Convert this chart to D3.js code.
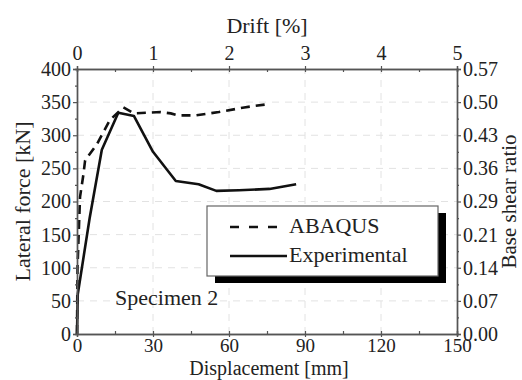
<!DOCTYPE html>
<html>
<head>
<meta charset="utf-8">
<script src="https://cdn.jsdelivr.net/npm/d3@7"></script>
<style>
  body { margin: 0; background: #fff; }
  svg text { font-family: "Liberation Serif", "Times New Roman", serif; }
</style>
</head>
<body>
<div id="chart"></div>
<script>
// data
const abaqusDisp  = [0, 0.2, 1.2, 2.5, 3.2, 7.8, 13, 18.3, 22.5, 27.5, 33, 37, 40, 47, 56, 66, 75.5];
const abaqusForce = [0, 100, 207, 240, 262, 286, 323, 342, 333, 334, 335, 333, 330, 330, 335, 342, 347];
const expDisp  = [0, 0.3, 5, 9.8, 16.3, 22.5, 30, 39, 48, 55, 64, 76, 86.5];
const expForce = [0, 60, 175, 278, 334, 329, 275, 231, 226, 216, 217, 219, 226];

const dispTicks  = [0, 30, 60, 90, 120, 150];
const driftTicks = [0, 1, 2, 3, 4, 5];
const forceTicks = [0, 50, 100, 150, 200, 250, 300, 350, 400];
const ratioLabels = ["0.00", "0.07", "0.14", "0.21", "0.29", "0.36", "0.43", "0.50", "0.57"];
const seriesNames = ["ABAQUS", "Experimental"];

const width = 522, height = 380;
const margins = { top: 69, right: 65, bottom: 46, left: 77 };

const svg = d3.select("#chart").append("svg")
    .attr("width", width)
    .attr("height", height);

svg.append("rect").attr("width", width).attr("height", height).attr("fill", "#fff");

const x = d3.scaleLinear().domain([0, 150]).range([margins.left, width - margins.right]);
const xTop = d3.scaleLinear().domain([0, 5]).range([margins.left, width - margins.right]);
const y = d3.scaleLinear().domain([0, 400]).range([height - margins.bottom, margins.top]);

// faint dashed grid
const grid = svg.append("g").attr("stroke", "#e2e2e2").attr("stroke-width", 1).attr("stroke-dasharray", "7,6");
grid.selectAll("line.h")
    .data(forceTicks.slice(1, -1))
    .join("line")
    .attr("x1", x(0)).attr("x2", x(150))
    .attr("y1", d => y(d)).attr("y2", d => y(d));
grid.selectAll("line.v")
    .data(dispTicks.slice(1, -1))
    .join("line")
    .attr("y1", y(0)).attr("y2", y(400))
    .attr("x1", d => x(d)).attr("x2", d => x(d));

// curves
const line = d3.line().x(d => x(d[0])).y(d => y(d[1]));
const abaqus = abaqusDisp.map((d, i) => [d, abaqusForce[i]]);
const experimental = expDisp.map((d, i) => [d, expForce[i]]);

svg.append("path")
    .attr("d", line(experimental))
    .attr("fill", "none")
    .attr("stroke", "#111")
    .attr("stroke-width", 2.6)
    .attr("stroke-linejoin", "round");

svg.append("path")
    .attr("d", line(abaqus))
    .attr("fill", "none")
    .attr("stroke", "#111")
    .attr("stroke-width", 2.6)
    .attr("stroke-dasharray", "9,6");

// axes
function styleAxis(g) {
    g.attr("font-family", null).attr("font-size", null);
    g.select(".domain").attr("stroke", "#555").attr("stroke-width", 1.4);
    g.selectAll(".tick line").attr("stroke", "#555").attr("stroke-width", 1.2);
    g.selectAll(".tick text").attr("fill", "#222").style("font-size", "20px");
}

const minorX = d3.range(15, 150, 30);
const minorY = d3.range(25, 400, 50);
const minorDrift = d3.range(0.5, 5, 1);

// bottom
svg.append("g")
    .attr("transform", `translate(0,${y(0)})`)
    .call(d3.axisBottom(x).tickValues(dispTicks).tickSize(3).tickPadding(2).tickFormat(d3.format("d")))
    .call(styleAxis)
    .call(g => g.selectAll(".tick text").style("font-size", "19px"));
svg.append("g")
    .attr("transform", `translate(0,${y(0)})`)
    .call(d3.axisBottom(x).tickValues(dispTicks.concat(minorX)).tickSize(-3).tickFormat(""))
    .call(styleAxis);

// top
svg.append("g")
    .attr("transform", `translate(0,${y(400)})`)
    .call(d3.axisTop(xTop).tickValues(driftTicks).tickSize(3).tickPadding(6).tickFormat(d3.format("d")))
    .call(styleAxis);
svg.append("g")
    .attr("transform", `translate(0,${y(400)})`)
    .call(d3.axisTop(xTop).tickValues(driftTicks.concat(minorDrift)).tickSize(-3).tickFormat(""))
    .call(styleAxis);

// left
svg.append("g")
    .attr("transform", `translate(${x(0)},0)`)
    .call(d3.axisLeft(y).tickValues(forceTicks).tickSize(4).tickPadding(2).tickFormat(d3.format("d")))
    .call(styleAxis);
svg.append("g")
    .attr("transform", `translate(${x(0)},0)`)
    .call(d3.axisLeft(y).tickValues(minorY).tickSize(2).tickFormat(""))
    .call(styleAxis);

// right
svg.append("g")
    .attr("transform", `translate(${x(150)},0)`)
    .call(d3.axisRight(y).tickValues(forceTicks).tickSize(4).tickPadding(2)
        .tickFormat((d, i) => ratioLabels[i]))
    .call(styleAxis);
svg.append("g")
    .attr("transform", `translate(${x(150)},0)`)
    .call(d3.axisRight(y).tickValues(minorY).tickSize(2).tickFormat(""))
    .call(styleAxis);

// axis titles
svg.append("text")
    .attr("x", (x(0) + x(150)) / 2 + 2).attr("y", 375)
    .attr("text-anchor", "middle").attr("font-size", "20px").attr("fill", "#222")
    .text("Displacement [mm]");
svg.append("text")
    .attr("x", (x(0) + x(150)) / 2).attr("y", 33)
    .attr("text-anchor", "middle").attr("font-size", "22px").attr("fill", "#222")
    .text("Drift [%]");
svg.append("text")
    .attr("transform", `translate(30,${(y(0) + y(400)) / 2}) rotate(-90)`)
    .attr("text-anchor", "middle").attr("font-size", "22px").attr("fill", "#222")
    .text("Lateral force [kN]");
svg.append("text")
    .attr("transform", `translate(516,${(y(0) + y(400)) / 2}) rotate(-90)`)
    .attr("text-anchor", "middle").attr("font-size", "21px").attr("fill", "#222")
    .text("Base shear ratio");

svg.append("text")
    .attr("x", 115).attr("y", 305)
    .attr("font-size", "22px").attr("fill", "#222")
    .text("Specimen 2");

// legend with drop shadow
const legend = svg.append("g").attr("transform", "translate(207,206)");
legend.append("rect")
    .attr("x", 8).attr("y", 7).attr("width", 231).attr("height", 70)
    .attr("fill", "#000");
legend.append("rect")
    .attr("width", 231).attr("height", 70)
    .attr("fill", "#fff").attr("stroke", "#666").attr("stroke-width", 1.2);

legend.selectAll("line")
    .data(seriesNames)
    .join("line")
    .attr("x1", 23).attr("x2", 80)
    .attr("y1", (d, i) => 21 + i * 29).attr("y2", (d, i) => 21 + i * 29)
    .attr("stroke", "#111").attr("stroke-width", 2.6)
    .attr("stroke-dasharray", (d, i) => i === 0 ? "9,10" : null);

legend.selectAll("text")
    .data(seriesNames)
    .join("text")
    .attr("x", 82)
    .attr("y", (d, i) => 27 + i * 29)
    .attr("font-size", "22px").attr("fill", "#222")
    .text(d => d);
</script>
</body>
</html>
